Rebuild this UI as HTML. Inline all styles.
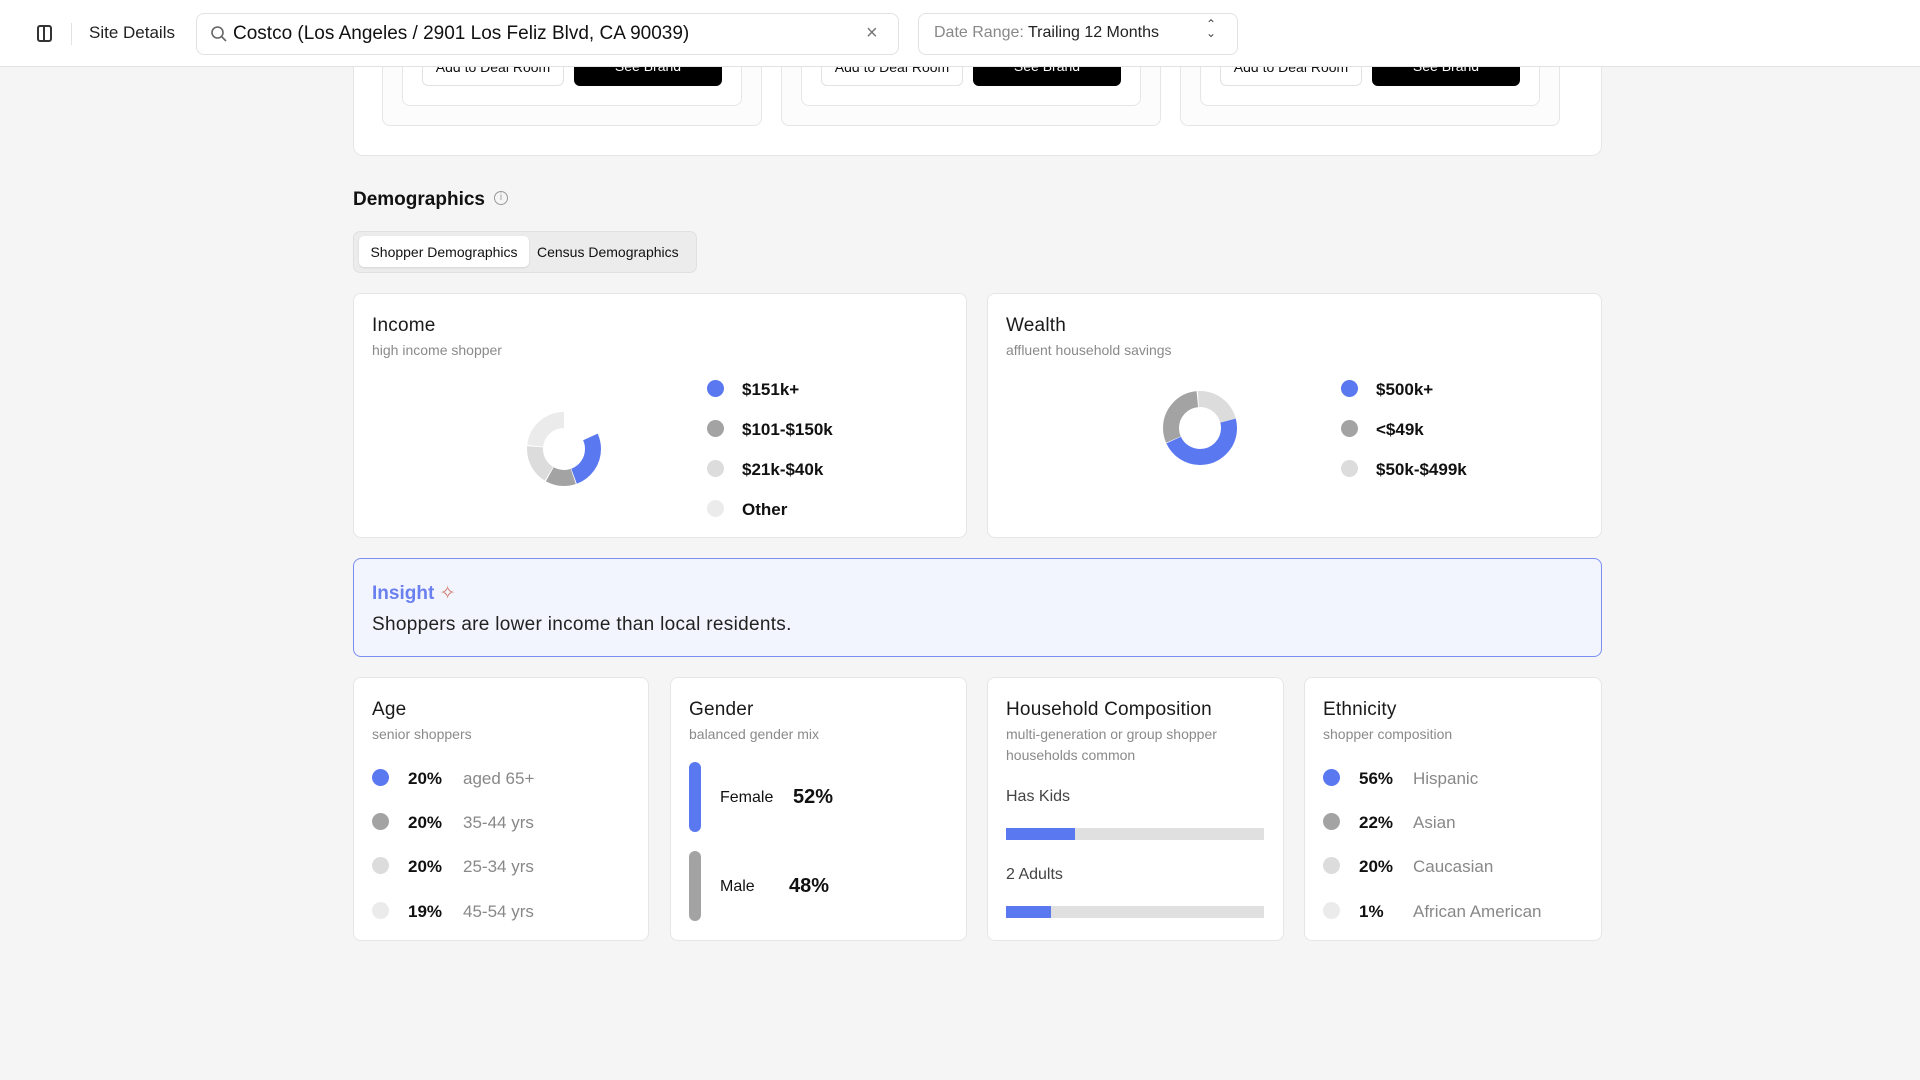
<!DOCTYPE html>
<html><head><meta charset="utf-8"><style>
*{box-sizing:border-box;margin:0;padding:0}
body{width:1920px;height:1080px;background:#f5f5f5;font-family:"Liberation Sans",sans-serif;position:relative;overflow:hidden;color:#111}
.a{position:absolute}
.card{position:absolute;background:#fff;border:1px solid #e6e6e6;border-radius:8px}
.t{font-size:19px;color:#1a1a1a;letter-spacing:.2px}
.s{font-size:14px;color:#8a8a8a}
.t,.s,.b,.tx{margin-top:2px}
.dot{position:absolute;width:17px;height:17px;border-radius:50%}
.b{font-weight:bold}
.btnw{position:absolute;background:#fff;border:1px solid #e2e2e2;border-radius:6px;font-size:14px;text-align:center;line-height:22px}
.btnk{position:absolute;background:#000;color:#fff;border-radius:6px;font-size:14px;text-align:center;line-height:22px}
</style></head><body>
<div class="card" style="left:353px;top:20px;width:1249px;height:136px;border-radius:10px"></div>
<div class="card" style="left:382px;top:20px;width:380px;height:106px;background:#fcfcfc"></div>
<div class="card" style="left:781px;top:20px;width:380px;height:106px;background:#fcfcfc"></div>
<div class="card" style="left:1180px;top:20px;width:380px;height:106px;background:#fcfcfc"></div>
<div class="card" style="left:402px;top:20px;width:340px;height:86px"></div>
<div class="card" style="left:801px;top:20px;width:340px;height:86px"></div>
<div class="card" style="left:1200px;top:20px;width:340px;height:86px"></div>
<div class="btnw" style="left:422px;top:55px;width:142px;height:31px">Add to Deal Room</div>
<div class="btnk" style="left:574px;top:55px;width:148px;height:31px">See Brand</div>
<div class="btnw" style="left:821px;top:55px;width:142px;height:31px">Add to Deal Room</div>
<div class="btnk" style="left:973px;top:55px;width:148px;height:31px">See Brand</div>
<div class="btnw" style="left:1220px;top:55px;width:142px;height:31px">Add to Deal Room</div>
<div class="btnk" style="left:1372px;top:55px;width:148px;height:31px">See Brand</div>
<div class="a" style="left:0;top:0;width:1920px;height:67px;background:#fff;border-bottom:1px solid #e2e2e2"></div>
<div class="a" style="left:37px;top:25px;width:15px;height:17px;border:2px solid #333;border-radius:3px"></div>
<div class="a" style="left:43px;top:25px;width:2px;height:17px;background:#333"></div>
<div class="a" style="left:71px;top:23px;width:1px;height:22px;background:#e2e2e2"></div>
<div class="a" style="left:89px;top:23px;font-size:17px;color:#222">Site Details</div>
<div class="a" style="left:196px;top:13px;width:703px;height:42px;border:1px solid #e2e2e2;border-radius:8px;background:#fff"></div>
<svg class="a" style="left:210px;top:25px" width="18" height="18"><circle cx="7.5" cy="7.5" r="5.5" fill="none" stroke="#666" stroke-width="1.6"/><line x1="11.5" y1="11.5" x2="16" y2="16" stroke="#666" stroke-width="1.6"/></svg>
<div class="a" style="left:233px;top:23px;font-size:19px;color:#111">Costco (Los Angeles / 2901 Los Feliz Blvd, CA 90039)</div>
<div class="a" style="left:866px;top:22px;font-size:20px;color:#777">×</div>
<div class="a" style="left:918px;top:13px;width:320px;height:42px;border:1px solid #e2e2e2;border-radius:8px;background:#fff"></div>
<div class="a" style="left:934px;top:24px;font-size:16px;color:#888">Date Range: <span style="color:#222">Trailing 12 Months</span></div>
<div class="a" style="left:1206px;top:20px;font-size:12px;color:#444;line-height:9px">&#8963;<br>&#8964;</div>
<div class="a b" style="left:353px;top:187px;font-size:19px;color:#111">Demographics</div>
<div class="a" style="left:494px;top:191px;width:14px;height:14px;border:1.5px solid #999;border-radius:50%;font-size:10px;color:#999;text-align:center;line-height:11px">i</div>
<div class="a" style="left:353px;top:231px;width:344px;height:42px;background:#ececec;border:1px solid #e0e0e0;border-radius:7px"></div>
<div class="a" style="left:359px;top:236px;width:170px;height:31px;background:#fff;border-radius:5px;box-shadow:0 1px 2px rgba(0,0,0,.1);font-size:14px;line-height:33px;text-align:center;color:#111">Shopper Demographics</div>
<div class="a" style="left:537px;top:237px;font-size:14px;line-height:31px;color:#111">Census Demographics</div>
<div class="card" style="left:353px;top:293px;width:614px;height:245px"></div>
<div class="a t" style="left:372px;top:313px">Income</div>
<div class="a s" style="left:372px;top:340px">high income shopper</div>
<svg class="a" style="left:524px;top:409px" width="80" height="80"><g transform="rotate(-90 40 40)" fill="none" stroke-width="16">
<circle cx="40" cy="40" r="29" stroke="#ebebeb" stroke-dasharray="74.9 200" stroke-dashoffset="-139.7"/>
<circle cx="40" cy="40" r="29" stroke="#dcdcdc" stroke-dasharray="31.9 200" stroke-dashoffset="-106.8"/>
<circle cx="40" cy="40" r="29" stroke="#a3a3a3" stroke-dasharray="24.3 200" stroke-dashoffset="-81.5"/>
<circle cx="40" cy="40" r="29" stroke="#5a78f0" stroke-dasharray="47.6 200" stroke-dashoffset="-33.1"/></g></svg>
<div class="dot" style="left:707px;top:380px;background:#5a78f0"></div><div class="a b" style="left:742px;top:378px;font-size:17px">$151k+</div>
<div class="dot" style="left:707px;top:420px;background:#a3a3a3"></div><div class="a b" style="left:742px;top:418px;font-size:17px">$101-$150k</div>
<div class="dot" style="left:707px;top:460px;background:#dcdcdc"></div><div class="a b" style="left:742px;top:458px;font-size:17px">$21k-$40k</div>
<div class="dot" style="left:707px;top:500px;background:#ebebeb"></div><div class="a b" style="left:742px;top:498px;font-size:17px">Other</div>
<div class="card" style="left:987px;top:293px;width:615px;height:245px"></div>
<div class="a t" style="left:1006px;top:313px">Wealth</div>
<div class="a s" style="left:1006px;top:340px">affluent household savings</div>
<svg class="a" style="left:1160px;top:388px" width="80" height="80"><g transform="rotate(-90 40 40)" fill="none" stroke-width="16">
<circle cx="40" cy="40" r="29" stroke="#dcdcdc" stroke-dasharray="39.5 200" stroke-dashoffset="-180.2"/>
<circle cx="40" cy="40" r="29" stroke="#dcdcdc" stroke-dasharray="38 200" stroke-dashoffset="0"/>
<circle cx="40" cy="40" r="29" stroke="#a3a3a3" stroke-dasharray="54.7 200" stroke-dashoffset="-124.5"/>
<circle cx="40" cy="40" r="29" stroke="#5a78f0" stroke-dasharray="86 200" stroke-dashoffset="-38"/></g></svg>
<div class="dot" style="left:1341px;top:380px;background:#5a78f0"></div><div class="a b" style="left:1376px;top:378px;font-size:17px">$500k+</div>
<div class="dot" style="left:1341px;top:420px;background:#a3a3a3"></div><div class="a b" style="left:1376px;top:418px;font-size:17px">&lt;$49k</div>
<div class="dot" style="left:1341px;top:460px;background:#dcdcdc"></div><div class="a b" style="left:1376px;top:458px;font-size:17px">$50k-$499k</div>
<div class="a" style="left:353px;top:558px;width:1249px;height:99px;background:#f3f5fe;border:1.5px solid #7b8ff0;border-radius:8px"></div>
<div class="a b" style="left:372px;top:580px;font-size:19px;color:#6a80ee">Insight <span style="color:#d07a6a;font-weight:normal">✧</span></div>
<div class="a tx" style="left:372px;top:612px;font-size:19px;color:#222;letter-spacing:.3px">Shoppers are lower income than local residents.</div>
<div class="card" style="left:353px;top:677px;width:296px;height:264px"></div>
<div class="a t" style="left:372px;top:697px">Age</div>
<div class="a s" style="left:372px;top:724px">senior shoppers</div>
<div class="dot" style="left:372px;top:769px;background:#5a78f0"></div><div class="a b" style="left:408px;top:767px;font-size:17px">20%</div><div class="a tx" style="left:463px;top:767px;font-size:17px;color:#888">aged 65+</div>
<div class="dot" style="left:372px;top:813px;background:#a3a3a3"></div><div class="a b" style="left:408px;top:811px;font-size:17px">20%</div><div class="a tx" style="left:463px;top:811px;font-size:17px;color:#888">35-44 yrs</div>
<div class="dot" style="left:372px;top:857px;background:#dcdcdc"></div><div class="a b" style="left:408px;top:855px;font-size:17px">20%</div><div class="a tx" style="left:463px;top:855px;font-size:17px;color:#888">25-34 yrs</div>
<div class="dot" style="left:372px;top:902px;background:#ebebeb"></div><div class="a b" style="left:408px;top:900px;font-size:17px">19%</div><div class="a tx" style="left:463px;top:900px;font-size:17px;color:#888">45-54 yrs</div>
<div class="card" style="left:670px;top:677px;width:297px;height:264px"></div>
<div class="a t" style="left:689px;top:697px">Gender</div>
<div class="a s" style="left:689px;top:724px">balanced gender mix</div>
<div class="a" style="left:689px;top:762px;width:12px;height:70px;border-radius:6px;background:#5a78f0"></div>
<div class="a tx" style="left:720px;top:787px;font-size:16px">Female</div><div class="a b" style="left:793px;top:784px;font-size:20px">52%</div>
<div class="a" style="left:689px;top:851px;width:12px;height:70px;border-radius:6px;background:#a3a3a3"></div>
<div class="a tx" style="left:720px;top:876px;font-size:16px">Male</div><div class="a b" style="left:789px;top:873px;font-size:20px">48%</div>
<div class="card" style="left:987px;top:677px;width:297px;height:264px"></div>
<div class="a t" style="left:1006px;top:697px">Household Composition</div>
<div class="a s" style="left:1006px;top:722px;width:260px;line-height:21px">multi-generation or group shopper households common</div>
<div class="a tx" style="left:1006px;top:786px;font-size:16px;color:#444">Has Kids</div>
<div class="a" style="left:1006px;top:828px;width:258px;height:12px;background:#e0e0e0"></div>
<div class="a" style="left:1006px;top:828px;width:69px;height:12px;background:#5a78f0"></div>
<div class="a tx" style="left:1006px;top:864px;font-size:16px;color:#444">2 Adults</div>
<div class="a" style="left:1006px;top:906px;width:258px;height:12px;background:#e0e0e0"></div>
<div class="a" style="left:1006px;top:906px;width:45px;height:12px;background:#5a78f0"></div>
<div class="card" style="left:1304px;top:677px;width:298px;height:264px"></div>
<div class="a t" style="left:1323px;top:697px">Ethnicity</div>
<div class="a s" style="left:1323px;top:724px">shopper composition</div>
<div class="dot" style="left:1323px;top:769px;background:#5a78f0"></div><div class="a b" style="left:1359px;top:767px;font-size:17px">56%</div><div class="a tx" style="left:1413px;top:767px;font-size:17px;color:#888">Hispanic</div>
<div class="dot" style="left:1323px;top:813px;background:#a3a3a3"></div><div class="a b" style="left:1359px;top:811px;font-size:17px">22%</div><div class="a tx" style="left:1413px;top:811px;font-size:17px;color:#888">Asian</div>
<div class="dot" style="left:1323px;top:857px;background:#dcdcdc"></div><div class="a b" style="left:1359px;top:855px;font-size:17px">20%</div><div class="a tx" style="left:1413px;top:855px;font-size:17px;color:#888">Caucasian</div>
<div class="dot" style="left:1323px;top:902px;background:#ebebeb"></div><div class="a b" style="left:1359px;top:900px;font-size:17px">1%</div><div class="a tx" style="left:1413px;top:900px;font-size:17px;color:#888">African American</div>
</body></html>
